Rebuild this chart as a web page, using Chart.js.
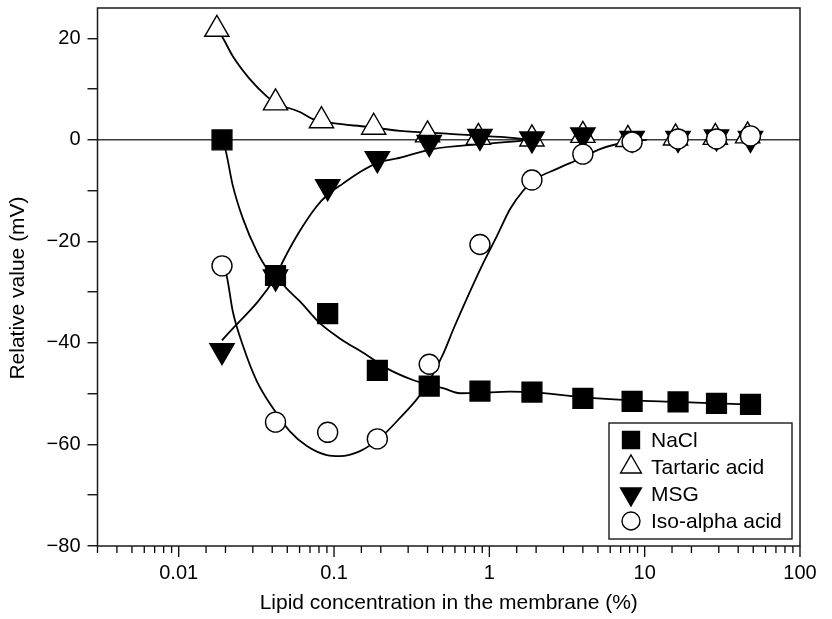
<!DOCTYPE html>
<html>
<head>
<meta charset="utf-8">
<title>Lipid concentration response</title>
<script src="https://cdn.jsdelivr.net/npm/chart.js@4/dist/chart.umd.min.js"></script>
<style>
  html, body { margin: 0; padding: 0; background: #fff; }
  #chart { display: block; }
</style>
</head>
<body>
<canvas id="chart" width="832" height="619"></canvas>
<script>
// measured points: lipid content (%) vs. relative value (mV)
const lipidPct = [0.019, 0.042, 0.091, 0.19, 0.41, 0.87, 1.88, 4.0, 8.3, 16.4, 29, 48];
const tartaricPct = [0.0176, 0.042, 0.083, 0.18, 0.40, 0.85, 1.88, 4.0, 7.8, 15.8, 28.5, 46];

const naclValues = [0, -26.7, -34.2, -45.4, -48.5, -49.5, -49.7, -50.9, -51.5, -51.6, -51.9, -52.1];
const tartaricValues = [21.8, 7.3, 3.8, 2.5, 1.0, 0.5, 0.2, 0.9, 0.1, 0.4, 0.5, 0.8];
const msgValues = [-41.5, -27, -9.2, -3.7, -0.5, 0.7, 0.2, 1.0, 0.3, 0.3, 0.6, 0.3];
const isoAlphaValues = [-24.8, -55.6, -57.6, -58.9, -44.2, -20.6, -7.9, -2.8, -0.4, 0.2, 0.2, 0.8];

// fitted curves
const naclFitX = [0.019, 0.0201, 0.0223, 0.0259, 0.0319, 0.037, 0.042, 0.0496, 0.0603, 0.081, 0.109, 0.163, 0.219, 0.322, 0.433, 0.502, 0.647, 0.87, 1.36, 1.88, 4.0, 8.3, 16.4, 29, 48];
const naclFitY = [0, -2.2, -9, -15.5, -22, -25.3, -26.7, -29.3, -31.8, -36.1, -39.1, -42.4, -45, -47.3, -48.5, -48.9, -49.9, -49.8, -49.6, -49.7, -50.7, -51.3, -51.6, -51.9, -52.1];

const tartaricFitX = [0.0176, 0.019, 0.0223, 0.0287, 0.0369, 0.042, 0.0603, 0.0731, 0.0984, 0.163, 0.266, 0.557, 1.17, 1.91];
const tartaricFitY = [21.8, 20.4, 16.5, 12, 8.6, 7.3, 5.5, 4.1, 3.3, 2.6, 1.8, 1.2, 0.6, 0];

const msgFitX = [0.019, 0.042, 0.0469, 0.0603, 0.0776, 0.091, 0.114, 0.147, 0.197, 0.25, 0.43, 0.9, 1.9];
const msgFitY = [-39.5, -27, -23.9, -17.9, -13, -10.8, -8.6, -6.3, -4.3, -3.7, -1.8, -0.8, 0];

const isoAlphaFitX = [0.0192, 0.0204, 0.0223, 0.0259, 0.0318, 0.0416, 0.052, 0.0669, 0.090, 0.109, 0.147, 0.198, 0.265, 0.373, 0.50, 0.59, 0.717, 0.895, 1.12, 1.36, 1.65, 1.94, 2.72, 3.83, 5.15, 7.69, 10.3];
const isoAlphaFitY = [-24.8, -26.9, -33.8, -40.5, -47.5, -53.4, -57.4, -60.3, -62.1, -62.3, -61.3, -58.7, -54.8, -49.5, -42.4, -37.1, -31.2, -24.8, -18.9, -13.6, -10.0, -7.9, -5.7, -3.7, -1.8, -0.4, 0];

const seriesNames = ['NaCl', 'Tartaric acid', 'MSG', 'Iso-alpha acid'];

const xTickValues = [0.01, 0.1, 1, 10, 100];
const xTickLabels = ['0.01', '0.1', '1', '10', '100'];
const yTickValues = [-80, -70, -60, -50, -40, -30, -20, -10, 0, 10, 20];

const xTitle = 'Lipid concentration in the membrane (%)';
const yTitle = 'Relative value (mV)';

const FONT = "'Liberation Sans', Arial, Helvetica, sans-serif";

const zip = (xs, ys) => xs.map((x, i) => ({ x, y: ys[i] }));

const fitLine = (xs, ys) => ({
  data: zip(xs, ys),
  showLine: true,
  borderColor: '#000',
  borderWidth: 1.8,
  pointRadius: 0,
  cubicInterpolationMode: 'monotone',
  order: 10
});

const markers = (label, xs, ys, style, fill, radius, rotation, order) => ({
  label,
  data: zip(xs, ys),
  showLine: false,
  pointStyle: style,
  pointRotation: rotation,
  pointRadius: radius,
  pointBackgroundColor: fill,
  pointBorderColor: '#000',
  pointBorderWidth: 1.4,
  order
});

// legend symbols drawn by hand so they can sit inside the plot frame
function drawSymbol (ctx, style, x, y, r, fill) {
  ctx.beginPath();
  if (style === 'rect') {
    const s = r * Math.SQRT1_2;
    ctx.rect(x - s, y - s, 2 * s, 2 * s);
  } else if (style === 'circle') {
    ctx.arc(x, y, r, 0, Math.PI * 2);
  } else {
    const dir = style === 'down' ? -1 : 1;
    for (let k = 0; k < 3; k++) {
      const a = k * 2 * Math.PI / 3;
      const px = x + Math.sin(a) * r;
      const py = y - dir * Math.cos(a) * r;
      k ? ctx.lineTo(px, py) : ctx.moveTo(px, py);
    }
    ctx.closePath();
  }
  ctx.fillStyle = fill;
  ctx.fill();
  ctx.lineWidth = 1.4;
  ctx.strokeStyle = '#000';
  ctx.stroke();
}

const legendSymbols = [
  { style: 'rect', fill: '#000', r: 12 },
  { style: 'up', fill: '#fff', r: 12 },
  { style: 'down', fill: '#000', r: 12 },
  { style: 'circle', fill: '#fff', r: 9 }
];

const framePlugin = {
  id: 'frame',
  afterDraw (chart) {
    const { ctx, chartArea: a, scales: { x } } = chart;
    ctx.save();

    // log axis tick marks, longer at each decade
    ctx.strokeStyle = '#000';
    ctx.lineWidth = 1.3;
    x.ticks.forEach(t => {
      const lg = Math.log10(t.value);
      const major = Math.abs(lg - Math.round(lg)) < 1e-6;
      const px = x.getPixelForValue(t.value);
      ctx.beginPath();
      ctx.moveTo(px, a.bottom);
      ctx.lineTo(px, a.bottom + (major ? 11 : 7));
      ctx.stroke();
    });

    // plot frame
    ctx.lineWidth = 1.5;
    ctx.strokeStyle = '#1a1a1a';
    ctx.strokeRect(a.left, a.top, a.width, a.height);

    // y axis title, sits a little below the plot's middle
    ctx.save();
    ctx.translate(18, a.top + a.height / 2 + 11);
    ctx.rotate(-Math.PI / 2);
    ctx.font = '21px ' + FONT;
    ctx.fillStyle = '#000';
    ctx.textAlign = 'center';
    ctx.textBaseline = 'middle';
    ctx.fillText(yTitle, 0, 0);
    ctx.restore();

    // legend box, bottom right of the plot
    const bw = 183, bh = 116;
    const bx = a.right - 8 - bw;
    const by = a.bottom - 7 - bh;
    ctx.fillStyle = '#fff';
    ctx.fillRect(bx, by, bw, bh);
    ctx.lineWidth = 1.4;
    ctx.strokeRect(bx, by, bw, bh);

    ctx.font = '21px ' + FONT;
    ctx.textBaseline = 'middle';
    seriesNames.forEach((name, i) => {
      const cy = by + 17 + i * 27;
      const s = legendSymbols[i];
      drawSymbol(ctx, s.style, bx + 22, cy, s.r, s.fill);
      ctx.fillStyle = '#000';
      ctx.fillText(name, bx + 42, cy + 1);
    });
    ctx.restore();
  }
};

new Chart(document.getElementById('chart'), {
  type: 'scatter',
  data: {
    datasets: [
      markers(seriesNames[3], lipidPct, isoAlphaValues, 'circle', '#fff', 10, 0, 1),
      markers(seriesNames[0], lipidPct, naclValues, 'rect', '#000', 14, 0, 2),
      markers(seriesNames[2], lipidPct, msgValues, 'triangle', '#000', 14, 180, 3),
      markers(seriesNames[1], tartaricPct, tartaricValues, 'triangle', '#fff', 14, 0, 4),
      fitLine(naclFitX, naclFitY),
      fitLine(tartaricFitX, tartaricFitY),
      fitLine(msgFitX, msgFitY),
      fitLine(isoAlphaFitX, isoAlphaFitY)
    ]
  },
  options: {
    responsive: false,
    animation: false,
    layout: { autoPadding: false, padding: { top: 8, right: 32, left: 0, bottom: 0 } },
    plugins: {
      legend: { display: false },
      tooltip: { enabled: false }
    },
    scales: {
      x: {
        type: 'logarithmic',
        min: 0.003,
        max: 100,
        border: { display: false },
        grid: { display: true, drawOnChartArea: false, drawTicks: true, tickLength: 10, tickColor: 'transparent' },
        ticks: {
          autoSkip: false,
          maxRotation: 0,
          padding: 5,
          color: '#000',
          font: { family: FONT, size: 20 },
          callback (value) {
            const i = xTickValues.findIndex(v => Math.abs(v - value) / v < 1e-6);
            return i >= 0 ? xTickLabels[i] : '';
          }
        },
        title: {
          display: true,
          text: xTitle,
          color: '#000',
          font: { family: FONT, size: 21 },
          padding: { top: 4, bottom: 3 }
        },
        afterFit (scale) {
          scale.height = 73;
          scale.paddingLeft = 0;
          scale.paddingRight = 0;
        }
      },
      y: {
        min: -80,
        max: 26,
        border: { display: false },
        afterBuildTicks (scale) { scale.ticks = yTickValues.map(value => ({ value })); },
        grid: {
          drawOnChartArea: true,
          tickLength: 10,
          tickColor: '#000',
          tickWidth: 1.3,
          color: ctx => (ctx.tick && ctx.tick.value === 0 ? '#3a3a3a' : 'transparent'),
          lineWidth: 1.5
        },
        ticks: {
          padding: 7,
          color: '#000',
          font: { family: FONT, size: 20 },
          callback: value => (value % 20 === 0 ? String(value).replace('-', '\u2212') : '')
        },
        title: { display: false },
        afterFit (scale) {
          scale.width = 97.5;
          scale.paddingTop = 0;
          scale.paddingBottom = 0;
        }
      }
    }
  },
  plugins: [framePlugin]
});
</script>
</body>
</html>
